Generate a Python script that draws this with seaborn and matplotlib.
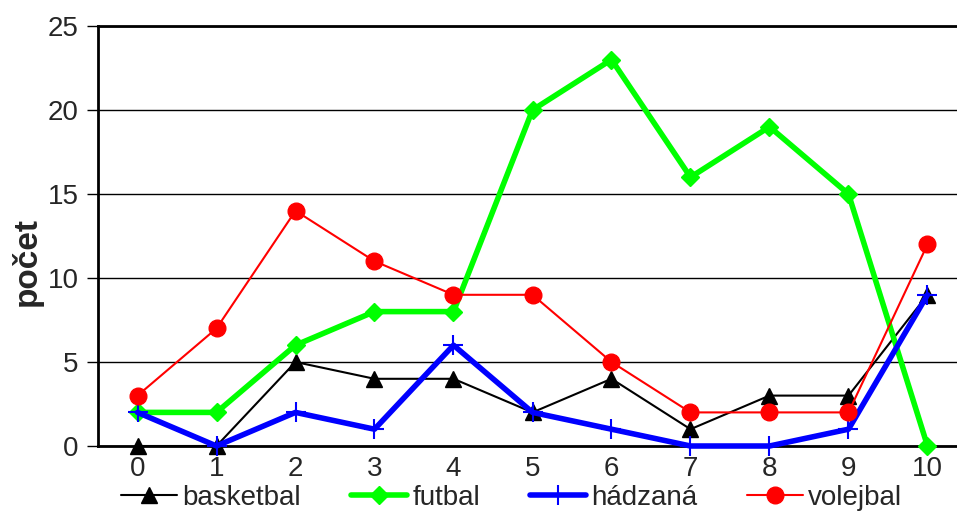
import matplotlib
matplotlib.use("Agg")
import matplotlib.pyplot as plt
import seaborn as sns
import pandas as pd
from matplotlib.ticker import FixedLocator

# data
body = list(range(11))
basketbal = [0, 0, 5, 4, 4, 2, 4, 1, 3, 3, 9]
futbal = [2, 2, 6, 8, 8, 20, 23, 16, 19, 15, 0]
hadzana = [2, 0, 2, 1, 6, 2, 1, 0, 0, 1, 9]
volejbal = [3, 7, 14, 11, 9, 9, 5, 2, 2, 2, 12]
y_ticks = [0, 5, 10, 15, 20, 25]

sns.set_style("white")
plt.rcParams['font.family'] = ['Liberation Sans', 'DejaVu Sans']

fig = plt.figure(figsize=(9.57, 5.16), dpi=100)
ax = fig.add_axes([98 / 957, 1 - 446 / 516, 869 / 957, 420 / 516])

series = [
    ("basketbal", basketbal, "black", "^", 1.5, 11, 1),
    ("futbal", futbal, "#00ff00", "D", 4, 9, 1),
    ("hádzaná", hadzana, "#0000ff", "+", 4, 14, 1.5),
    ("volejbal", volejbal, "#ff0000", "o", 1.5, 12, 1),
]
for name, vals, col, mk, lw, ms, mew in series:
    df = pd.DataFrame({"x": body, "y": vals})
    sns.lineplot(data=df, x="x", y="y", ax=ax, color=col, marker=mk,
                 linewidth=lw, markersize=ms, markeredgecolor=col,
                 markeredgewidth=mew, label=name, clip_on=False, zorder=3)

ax.set_xlim(-0.5, 10.5)
ax.set_ylim(0, 25)
ax.yaxis.set_major_locator(FixedLocator(y_ticks))
ax.set_xticks(body)
ax.set_xticks([b - 0.5 for b in body] + [10.5], minor=True)
ax.tick_params(axis="x", which="major", length=0, labelsize=20, pad=7)
ax.tick_params(axis="x", which="minor", length=8, width=1, direction="out", color="black")
ax.tick_params(axis="y", which="major", length=8, width=1, direction="out",
               color="black", labelsize=20, left=True, pad=6)
ax.grid(axis="y", color="black", linewidth=1)
for s in ["left", "bottom", "top"]:
    ax.spines[s].set_color("black")
    ax.spines[s].set_linewidth(2)
ax.spines["right"].set_visible(False)
ax.set_xlabel("")
ax.set_ylabel("počet", fontsize=24, fontweight="bold")
# label sits a bit below the middle, near the left edge
ax.yaxis.set_label_coords(-55 / 869, 0.44)

handles, labels = ax.get_legend_handles_labels()
ax.legend_.remove()
leg = fig.legend(handles, labels, loc="center", bbox_to_anchor=(0.535, 0.035),
                 ncol=4, fontsize=20, frameon=True, handlelength=2.0,
                 handletextpad=0.2, columnspacing=1.8, borderpad=0.1)
leg.get_frame().set_facecolor("white")
leg.get_frame().set_edgecolor("white")
leg.get_frame().set_alpha(1)
leg.set_zorder(10)

fig.savefig("out.png", dpi=100)
